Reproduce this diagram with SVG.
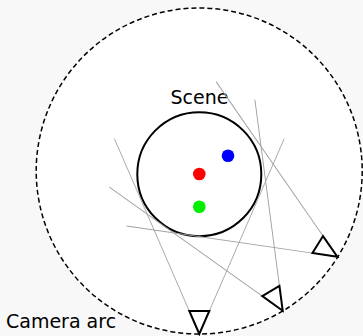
<svg xmlns="http://www.w3.org/2000/svg" width="363" height="336" viewBox="0 0 363 336">
<style>
.ray{stroke:#a0a0a0;stroke-width:0.9;fill:none}
.cam{fill:#fff;stroke:#000;stroke-width:2;stroke-linejoin:miter}
.lbl{font-family:"DejaVu Sans",sans-serif;font-size:19px;fill:#000}
</style>
<defs>
<g id="frustum">
<line class="ray" x1="-10" y1="-23" x2="-84.9" y2="-195.3"/>
<line class="ray" x1="10" y1="-23" x2="84.9" y2="-195.3"/>
</g>
<polygon id="camshape" class="cam" points="0,0 -10,-23 10,-23"/>
</defs>
<rect width="363" height="336" fill="#f8f8f8"/>
<g id="camera-arc">
<circle cx="199.2" cy="171" r="163" fill="#fff" stroke="#000" stroke-width="1.5" stroke-dasharray="5,3"/>
<text class="lbl" x="6" y="328">Camera arc</text>
</g>
<g id="scene">
<circle cx="199.3" cy="174.2" r="62" fill="none" stroke="#000" stroke-width="2"/>
<text class="lbl" x="199.5" y="103.5" text-anchor="middle">Scene</text>
</g>
<g id="points">
<circle cx="199.3" cy="174" r="6.3" fill="#ff0000"/>
<circle cx="228" cy="155.7" r="6.3" fill="#0000ff"/>
<circle cx="199.3" cy="206.7" r="6.3" fill="#00ee00"/>
</g>
<g id="connectors">
<use href="#frustum" transform="translate(199.3,334)"/>
<use href="#frustum" transform="translate(282.7,310.7) rotate(-31)"/>
<use href="#frustum" transform="translate(337.3,256.7) rotate(-58.2)"/>
</g>
<g id="camera1"><use href="#camshape" transform="translate(199.3,334)"/></g>
<g id="camera2"><use href="#camshape" transform="translate(282.7,310.7) rotate(-31)"/></g>
<g id="camera3"><use href="#camshape" transform="translate(337.3,256.7) rotate(-58.2)"/></g>
</svg>
